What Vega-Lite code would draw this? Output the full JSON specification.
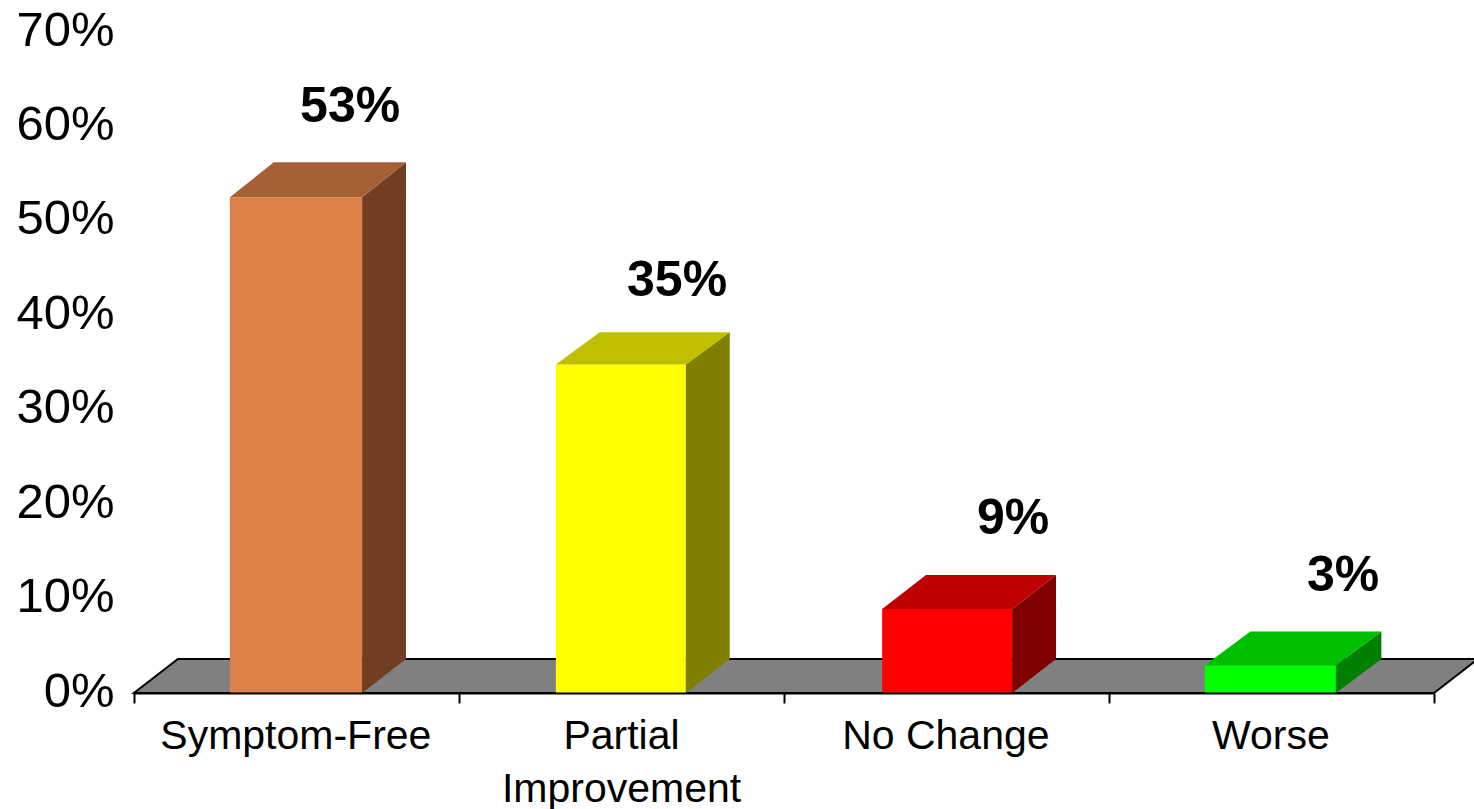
{"$schema":"https://vega.github.io/schema/vega-lite/v6.json","width":1300,"height":661,"autosize":"none","padding":{"left":134,"top":32,"right":40,"bottom":116},"background":"white","view":{"stroke":null},"config":{"font":"Liberation Sans"},
"datasets":{
"floor":[{"x":0,"y":0,"y2":0},{"x":0.135,"y":0,"y2":0.036},{"x":4,"y":0,"y2":0.036},{"x":4.135,"y":0.036,"y2":0.036}],
"faces":[
{"id":"A1","x":0.295,"y":0,"y2":0.525},{"id":"A1","x":0.702,"y":0,"y2":0.525},
{"id":"A2","x":0.702,"y":0,"y2":0.525},{"id":"A2","x":0.837,"y":0.036,"y2":0.562},
{"id":"A3","x":0.295,"y":0.525,"y2":0.525},{"id":"A3","x":0.43,"y":0.525,"y2":0.562},{"id":"A3","x":0.702,"y":0.525,"y2":0.562},{"id":"A3","x":0.837,"y":0.562,"y2":0.562},
{"id":"B1","x":1.298,"y":0,"y2":0.348},{"id":"B1","x":1.698,"y":0,"y2":0.348},
{"id":"B2","x":1.698,"y":0,"y2":0.348},{"id":"B2","x":1.833,"y":0.036,"y2":0.382},
{"id":"B3","x":1.298,"y":0.348,"y2":0.348},{"id":"B3","x":1.433,"y":0.348,"y2":0.382},{"id":"B3","x":1.698,"y":0.348,"y2":0.382},{"id":"B3","x":1.833,"y":0.382,"y2":0.382},
{"id":"C1","x":2.302,"y":0,"y2":0.089},{"id":"C1","x":2.702,"y":0,"y2":0.089},
{"id":"C2","x":2.702,"y":0,"y2":0.089},{"id":"C2","x":2.837,"y":0.036,"y2":0.125},
{"id":"C3","x":2.302,"y":0.089,"y2":0.089},{"id":"C3","x":2.437,"y":0.089,"y2":0.125},{"id":"C3","x":2.702,"y":0.089,"y2":0.125},{"id":"C3","x":2.837,"y":0.125,"y2":0.125},
{"id":"D1","x":3.295,"y":0,"y2":0.0295},{"id":"D1","x":3.698,"y":0,"y2":0.0295},
{"id":"D2","x":3.698,"y":0,"y2":0.0295},{"id":"D2","x":3.838,"y":0.036,"y2":0.065},
{"id":"D3","x":3.295,"y":0.0295,"y2":0.0295},{"id":"D3","x":3.435,"y":0.0295,"y2":0.065},{"id":"D3","x":3.698,"y":0.0295,"y2":0.065},{"id":"D3","x":3.838,"y":0.065,"y2":0.065}
],
"values":[{"x":0.665,"y":0.621,"t":"53%"},{"x":1.671,"y":0.4365,"t":"35%"},{"x":2.705,"y":0.1845,"t":"9%"},{"x":3.72,"y":0.1235,"t":"3%"}],
"cats":[{"x":0.498,"y":0,"t":"Symptom-Free"},{"x":1.5,"y":0,"t":"Partial\nImprovement"},{"x":2.498,"y":0,"t":"No Change"},{"x":3.498,"y":0,"t":"Worse"}]
},
"layer":[
{"data":{"name":"floor"},"mark":{"type":"area","fill":"#808080","stroke":"black","strokeWidth":2,"clip":false},
"encoding":{"x":{"field":"x","type":"quantitative","scale":{"domain":[0,4],"nice":false,"zero":false},"axis":{"values":[0,1,2,3,4],"grid":false,"labels":false,"title":null,"domain":true,"domainColor":"black","domainWidth":2,"ticks":true,"tickColor":"black","tickWidth":2,"tickSize":10,"zindex":1}},
"y":{"field":"y","type":"quantitative","stack":null,"scale":{"domain":[0,0.7],"nice":false},"axis":{"values":[0,0.1,0.2,0.3,0.4,0.5,0.6,0.7],"format":".0%","grid":false,"title":null,"domain":false,"ticks":false,"labelFontSize":49,"labelColor":"black","labelPadding":20,"labelOffset":-2,"labelFont":"Liberation Sans"}},
"y2":{"field":"y2"}}},
{"data":{"name":"faces"},"mark":{"type":"area","clip":false},
"encoding":{"x":{"field":"x","type":"quantitative"},"y":{"field":"y","type":"quantitative","stack":null},"y2":{"field":"y2"},"detail":{"field":"id"},
"color":{"field":"id","type":"nominal","legend":null,"scale":{"domain":["A1","A2","A3","B1","B2","B3","C1","C2","C3","D1","D2","D3"],"range":["#DD8047","#713E21","#A66035","#FFFF00","#808000","#BFBF00","#FF0000","#800000","#BF0000","#00FF00","#008000","#00BF00"]}}}},
{"data":{"name":"values"},"mark":{"type":"text","fontSize":50,"fontWeight":"bold","color":"black","baseline":"middle","align":"center"},
"encoding":{"x":{"field":"x","type":"quantitative"},"y":{"field":"y","type":"quantitative"},"text":{"field":"t"}}},
{"data":{"name":"cats"},"transform":[{"calculate":"split(datum.t,'\\n')","as":"lines"}],"mark":{"type":"text","fontSize":41,"color":"black","baseline":"top","align":"center","dy":24,"lineHeight":53},
"encoding":{"x":{"field":"x","type":"quantitative"},"y":{"field":"y","type":"quantitative"},"text":{"field":"lines"}}}
]}
